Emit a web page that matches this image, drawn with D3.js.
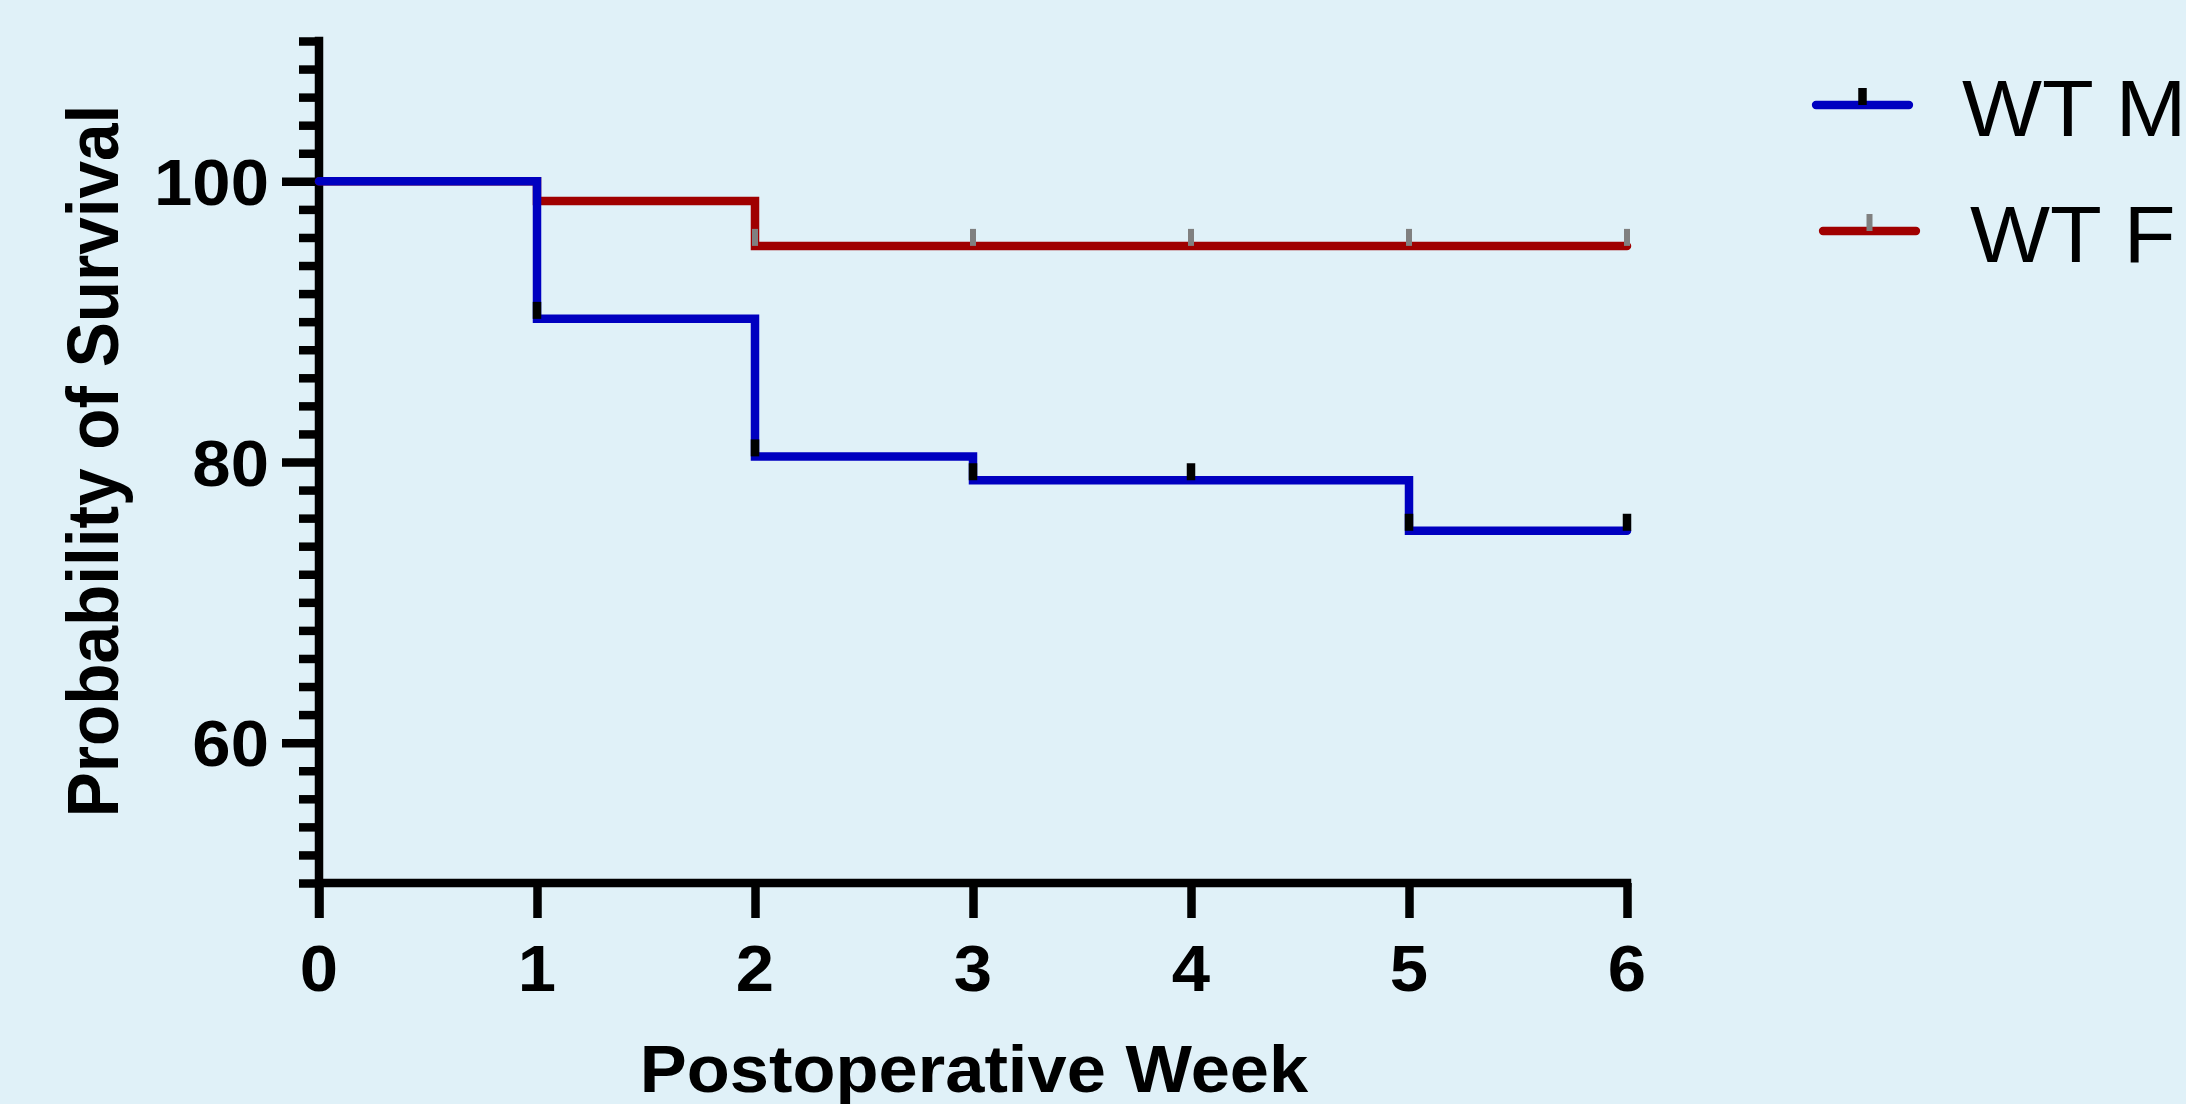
<!DOCTYPE html>
<meta charset="utf-8" />
<style>
  body { margin: 0; background: #e0f1f8; }
  text { font-family: "Liberation Sans", Arial, sans-serif; fill: #000; }
</style>
<svg width="2186" height="1104"></svg>
<script src="https://d3js.org/d3.v7.min.js"></script>
<script>
    // data
    var weeks = [0, 1, 2, 3, 4, 5, 6];
    var wtmSurvival = [100, 90.2, 80.4, 78.7, 78.7, 75.1, 75.1];
    var wtfSurvival = [100, 98.6, 95.4, 95.4, 95.4, 95.4, 95.4];
    var wtmCensored = [1, 2, 3, 4, 5, 6];
    var wtfCensored = [2, 3, 4, 5, 6];
    var seriesNames = ["WT M", "WT F"];
    var yMajorTicks = [60, 80, 100];
    var yMinorTicks = d3.range(50, 111, 2).filter(v => yMajorTicks.indexOf(v) < 0);

    var svg = d3.select("svg");
    var width = +svg.attr("width");
    var height = +svg.attr("height");

    svg.append("rect").attr("width", width).attr("height", height).attr("fill", "#e0f1f8");

    var x = d3.scaleLinear().domain([0, 6]).range([319, 1627]);
    var y = d3.scaleLinear().domain([50, 110]).range([883, 41]);
    var stretch = "scale(1.06,1)"; // the original text is a bit wide

    var axisW = 8.5;
    var tickDown = 35;

    // y ticks
    svg.append("g")
        .attr("transform", "translate(" + x(0) + ",0)")
        .call(d3.axisLeft(y).tickValues(yMinorTicks).tickSize(20).tickFormat(""));
    svg.append("g")
        .attr("transform", "translate(" + x(0) + ",0)")
        .call(d3.axisLeft(y).tickValues(yMajorTicks).tickSize(37).tickFormat(""));
    // x ticks
    svg.append("g")
        .attr("transform", "translate(0," + y(50) + ")")
        .call(d3.axisBottom(x).tickValues(weeks).tickSize(tickDown).tickFormat(""));

    svg.selectAll(".domain").remove();
    svg.selectAll(".tick line").attr("stroke", "#000").attr("stroke-width", axisW);

    // axis lines
    svg.append("line")
        .attr("x1", x(0)).attr("x2", x(0))
        .attr("y1", y(110) - axisW / 2).attr("y2", y(50) + tickDown)
        .attr("stroke", "#000").attr("stroke-width", axisW);
    svg.append("line")
        .attr("x1", x(0)).attr("x2", x(6) + axisW / 2)
        .attr("y1", y(50)).attr("y2", y(50))
        .attr("stroke", "#000").attr("stroke-width", axisW);

    // tick labels
    svg.append("g").selectAll("text")
        .data(yMajorTicks)
        .enter()
        .append("text")
        .attr("transform", d => "translate(269," + (y(d) + 23.5) + ") " + stretch)
        .attr("text-anchor", "end")
        .attr("font-size", 65)
        .attr("font-weight", "bold")
        .text(d => d);

    svg.append("g").selectAll("text")
        .data(weeks)
        .enter()
        .append("text")
        .attr("transform", d => "translate(" + x(d) + ",991) " + stretch)
        .attr("text-anchor", "middle")
        .attr("font-size", 65)
        .attr("font-weight", "bold")
        .text(d => d);

    // axis titles
    svg.append("text")
        .attr("transform", "translate(974,1092) " + stretch)
        .attr("text-anchor", "middle")
        .attr("font-size", 66.5)
        .attr("font-weight", "bold")
        .text("Postoperative Week");

    svg.append("text")
        .attr("transform", "translate(118,461) " + stretch + " rotate(-90)")
        .attr("text-anchor", "middle")
        .attr("font-size", 67.5)
        .attr("font-weight", "bold")
        .text("Probability of Survival");

    // survival curves
    var line = d3.line()
        .x(d => x(d[0]))
        .y(d => y(d[1]))
        .curve(d3.curveStepAfter);

    var series = [
        { name: seriesNames[0], values: wtmSurvival, censored: wtmCensored, color: "#0000c0", mark: "#000", markW: 8.5 },
        { name: seriesNames[1], values: wtfSurvival, censored: wtfCensored, color: "#a00000", mark: "#808080", markW: 6 }
    ];

    // red first so blue sits on top
    svg.append("g").selectAll("path")
        .data(series.slice().reverse())
        .enter()
        .append("path")
        .attr("d", s => line(weeks.map((w, i) => [w, s.values[i]])))
        .attr("fill", "none")
        .attr("stroke", s => s.color)
        .attr("stroke-width", 8.5)
        .attr("stroke-linecap", "round")
        .attr("stroke-linejoin", "miter");

    // censor marks
    series.forEach(function (s) {
        svg.append("g").selectAll("line")
            .data(s.censored)
            .enter()
            .append("line")
            .attr("x1", w => x(w)).attr("x2", w => x(w))
            .attr("y1", w => y(s.values[weeks.indexOf(w)]))
            .attr("y2", w => y(s.values[weeks.indexOf(w)]) - 17)
            .attr("stroke", s.mark)
            .attr("stroke-width", s.markW);
    });

    // legend
    var legendRows = [
        { lx1: 1816, lx2: 1909, ly: 105, tx: 1962, ty: 136 },
        { lx1: 1823, lx2: 1916, ly: 231, tx: 1970, ty: 262 }
    ];
    var legend = svg.append("g").selectAll("g")
        .data(series)
        .enter()
        .append("g");
    legend.append("line")
        .attr("x1", (s, i) => legendRows[i].lx1).attr("x2", (s, i) => legendRows[i].lx2)
        .attr("y1", (s, i) => legendRows[i].ly).attr("y2", (s, i) => legendRows[i].ly)
        .attr("stroke", s => s.color)
        .attr("stroke-width", 8.3)
        .attr("stroke-linecap", "round");
    legend.append("line")
        .attr("x1", (s, i) => (legendRows[i].lx1 + legendRows[i].lx2) / 2)
        .attr("x2", (s, i) => (legendRows[i].lx1 + legendRows[i].lx2) / 2)
        .attr("y1", (s, i) => legendRows[i].ly)
        .attr("y2", (s, i) => legendRows[i].ly - 17)
        .attr("stroke", s => s.mark)
        .attr("stroke-width", s => s.markW);
    legend.append("text")
        .attr("transform", (s, i) => "translate(" + legendRows[i].tx + "," + legendRows[i].ty + ") " + stretch)
        .attr("font-size", 80)
        .text(s => s.name);
</script>
